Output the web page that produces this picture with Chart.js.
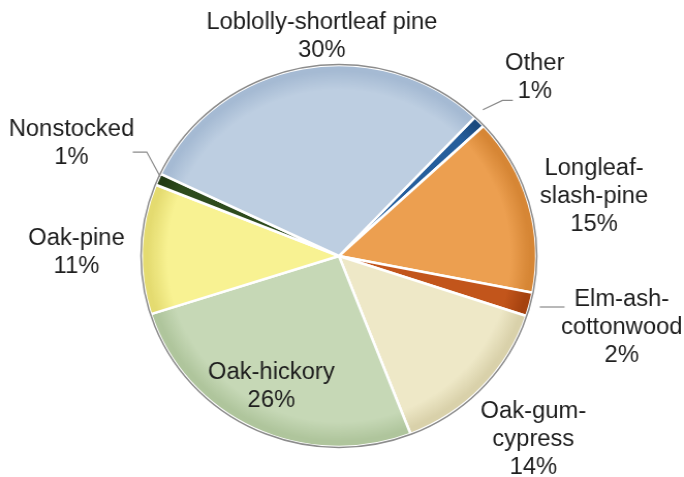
<!DOCTYPE html>
<html lang="en">
<head>
    <meta charset="UTF-8">
    <title>Forest type groups</title>
    <style>
        body { margin: 0; background-color: white; overflow: hidden; }
        /* the drawing is a touch wider than tall, so stretch the canvas slightly */
        #wrap { width: 662px; height: 477px; transform: scaleX(1.0332); transform-origin: 0 0; }
    </style>
    <script src="https://cdn.jsdelivr.net/npm/chart.js"></script>
</head>
<body>
    <div id="wrap"><canvas id="forestChart" width="662" height="477"></canvas></div>

    <script>
        // Forest type groups, share of forest land (%), clockwise from "Other"
        const groups = ['Other', 'Longleaf-slash-pine', 'Elm-ash-cottonwood', 'Oak-gum-cypress',
                        'Oak-hickory', 'Oak-pine', 'Nonstocked', 'Loblolly-shortleaf pine'];
        const shares = [1, 15, 2, 14, 26, 11, 1, 30];
        // label text split into lines
        const labelLines = [
            ['Other', '1%'],
            ['Longleaf-', 'slash-pine', '15%'],
            ['Elm-ash-', 'cottonwood', '2%'],
            ['Oak-gum-', 'cypress', '14%'],
            ['Oak-hickory', '26%'],
            ['Oak-pine', '11%'],
            ['Nonstocked', '1%'],
            ['Loblolly-shortleaf pine', '30%']
        ];

        const fills = ['#255e9c', '#ec9f50', '#c2551b', '#eee8c7', '#c6d8b6', '#f8f292', '#2e4b1d', '#bdcee1'];
        const rims  = ['#1b4a7e', '#d68635', '#a5420f', '#d9d1aa', '#afc59c', '#e4db70', '#223a14', '#a5bad3'];

        // label placement: distance from centre and angle nudge (degrees)
        const labelDist = [260, 254, 283, 263, 146, 254, 282, 220];
        const labelTurn = [1.5, 2.4, 0, 0.8, 1.1, -1.4, -0.3, 6.2];

        const RADIUS = 191;

        function sliceFill(ctx) {
            const chart = ctx.chart;
            const area = chart.chartArea;
            const i = ctx.dataIndex;
            if (!area) return fills[i];
            const cx = (area.left + area.right) / 2;
            const cy = (area.top + area.bottom) / 2;
            const g = chart.ctx.createRadialGradient(cx, cy, 0, cx, cy, RADIUS);
            g.addColorStop(0, fills[i]);
            g.addColorStop(0.87, fills[i]);
            g.addColorStop(0.97, rims[i]);
            g.addColorStop(1, rims[i]);
            return g;
        }

        const deg = Math.PI / 180;

        const labelPlugin = {
            id: 'pieLabels',
            afterDatasetsDraw(chart) {
                const c = chart.ctx;
                const arcs = chart.getDatasetMeta(0).data;
                const cx = arcs[0].x, cy = arcs[0].y;

                // outline round the pie
                c.save();
                c.beginPath();
                c.arc(cx, cy, RADIUS + 0.5, 0, Math.PI * 2);
                c.strokeStyle = '#8c8c8c';
                c.lineWidth = 1.5;
                c.stroke();

                // leader lines for the thin slices
                const leaders = {
                    0: { from: 202, turn: -1.7, elbow: 222, elbowTurn: 0.2, run: 10 },
                    2: { from: 201, turn: 0, elbow: null, run: 24 },
                    6: { from: 190, turn: 0.9, elbow: 213, elbowTurn: 5.5, run: -13.6 }
                };
                c.strokeStyle = '#8a8a8a';
                c.lineWidth = 1.2;
                Object.keys(leaders).forEach(k => {
                    const a = arcs[k];
                    const L = leaders[k];
                    const mid = (a.startAngle + a.endAngle) / 2;
                    const m1 = mid + L.turn * deg;
                    const x0 = cx + Math.cos(m1) * L.from, y0 = cy + Math.sin(m1) * L.from;
                    c.beginPath();
                    c.moveTo(x0, y0);
                    let ex = x0, ey = y0;
                    if (L.elbow) {
                        const m2 = mid + L.elbowTurn * deg;
                        ex = cx + Math.cos(m2) * L.elbow;
                        ey = cy + Math.sin(m2) * L.elbow;
                        c.lineTo(ex, ey);
                    }
                    c.lineTo(ex + L.run, ey);
                    c.stroke();
                });

                // labels
                c.fillStyle = '#1e1e1e';
                c.font = '23px "Liberation Sans", Arial, sans-serif';
                c.textAlign = 'center';
                c.textBaseline = 'middle';
                const lh = 28;
                arcs.forEach((a, i) => {
                    const mid = (a.startAngle + a.endAngle) / 2 + labelTurn[i] * deg;
                    const x = cx + Math.cos(mid) * labelDist[i];
                    const y = cy + Math.sin(mid) * labelDist[i];
                    const lines = labelLines[i];
                    const top = y - (lines.length - 1) * lh / 2;
                    lines.forEach((t, j) => c.fillText(t, x, top + j * lh));
                });
                c.restore();
            }
        };

        new Chart(document.getElementById('forestChart'), {
            type: 'pie',
            data: {
                labels: groups,
                datasets: [{
                    data: shares,
                    backgroundColor: sliceFill,
                    borderColor: '#ffffff',
                    borderWidth: 2.5,
                    radius: RADIUS
                }]
            },
            options: {
                responsive: false,
                animation: false,
                rotation: 43.5,
                layout: { padding: { top: 65, bottom: 30, left: 0, right: 6 } },
                plugins: {
                    legend: { display: false },
                    tooltip: { enabled: false }
                }
            },
            plugins: [labelPlugin]
        });
    </script>
</body>
</html>
